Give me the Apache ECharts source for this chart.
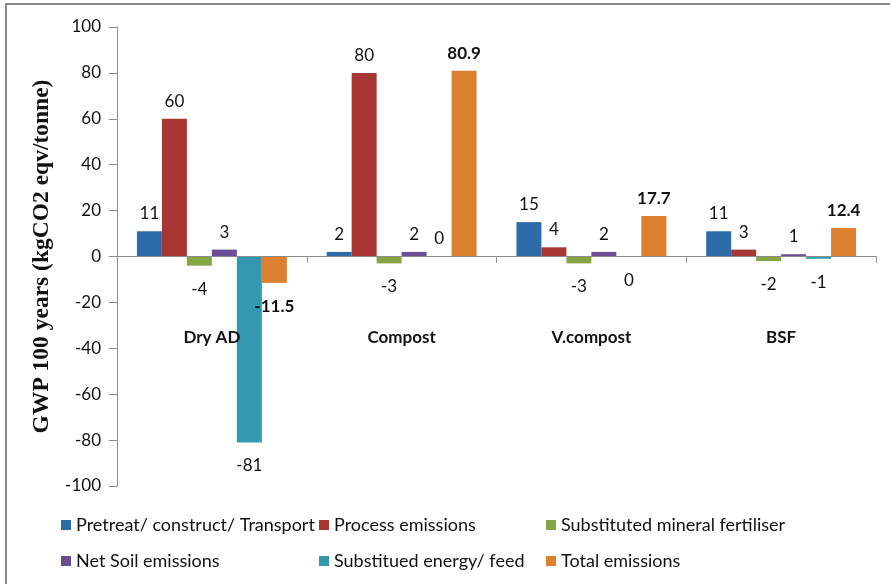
<!DOCTYPE html>
<html>
<head>
<meta charset="utf-8">
<script src="https://cdn.jsdelivr.net/npm/echarts@6/dist/echarts.min.js"></script>
<style>
  html, body { margin: 0; padding: 0; background: #fff; }
  #chart { width: 890px; height: 584px; }
</style>
</head>
<body>
<div id="chart"></div>
<script>
// categories
const categories = ["Dry AD", "Compost", "V.compost", "BSF"];
// series values, one per category
const pretreat = [11, 2, 15, 11];
const processEm = [60, 80, 4, 3];
const mineralFert = [-4, -3, -3, -2];
const netSoil = [3, 2, 2, 1];
const energyFeed = [-81, 0, -0.2, -1];
const totalEm = [-11.5, 80.9, 17.7, 12.4];

const seriesNames = [
  "Pretreat/ construct/ Transport",
  "Process emissions",
  "Substituted mineral fertiliser",
  "Net Soil emissions",
  "Substitued energy/ feed",
  "Total emissions"
];
const seriesData = [pretreat, processEm, mineralFert, netSoil, energyFeed, totalEm];
const colors = ["#2E6CA9", "#A83734", "#86A643", "#6B4D93", "#3398B0", "#DC7F2E"];

let myChart = echarts.init(document.getElementById("chart"));

let series = seriesData.map((vals, i) => {
  const isTotal = i === 5;
  return {
    name: seriesNames[i],
    type: "bar",
    barGap: "0%",
    barCategoryGap: "21%",
    itemStyle: { color: colors[i] },
    data: vals.map(v => ({
      value: v,
      label: {
        position: v < 0 ? "bottom" : "top",
        distance: v < 0 ? 15 : 9
      }
    })),
    label: {
      show: true,
      color: "#111",
      fontFamily: "Lato",
      fontSize: 17,
      fontWeight: isTotal ? "bold" : "normal",
      formatter: p => isTotal ? p.value.toFixed(1) : String(Math.round(p.value))
    }
  };
});

const legendBase = {
  orient: "vertical",
  top: 516,
  padding: 0,
  itemGap: 18,
  itemWidth: 10,
  itemHeight: 10,
  icon: "rect",
  selectedMode: false,
  textStyle: { color: "#111", fontFamily: "Lato", fontSize: 18 }
};

let option = {
  animation: false,
  graphic: [
    {
      type: "rect",
      shape: { x: 6, y: 4, width: 950, height: 650 },
      style: { fill: "none", stroke: "#8a8a8a", lineWidth: 2 },
      silent: true
    }
  ],
  legend: [
    Object.assign({}, legendBase, { left: 61, data: [seriesNames[0], seriesNames[3]] }),
    Object.assign({}, legendBase, { left: 319, data: [seriesNames[1], seriesNames[4]] }),
    Object.assign({}, legendBase, { left: 546, data: [seriesNames[2], seriesNames[5]] })
  ],
  grid: {
    left: 117,
    right: 14,
    top: 27,
    bottom: 98,
    containLabel: false
  },
  xAxis: {
    type: "category",
    data: categories,
    z: 3,
    axisLine: { onZero: true, lineStyle: { color: "#8c8c8c", width: 1 } },
    axisTick: { show: true, length: 6, lineStyle: { color: "#8c8c8c" } },
    axisLabel: {
      margin: -157,
      color: "#111",
      fontFamily: "Lato",
      fontSize: 17,
      fontWeight: "bold"
    }
  },
  yAxis: {
    type: "value",
    min: -100,
    max: 100,
    interval: 20,
    name: "GWP 100 years (kgCO2 eqv/tonne)",
    nameLocation: "middle",
    nameGap: 62,
    nameTextStyle: {
      fontFamily: "Liberation Serif",
      fontSize: 23.5,
      fontWeight: "bold",
      color: "#111"
    },
    splitLine: { show: false },
    axisLine: { show: true, lineStyle: { color: "#8c8c8c" } },
    axisTick: { show: true, length: 8, lineStyle: { color: "#8c8c8c" } },
    axisLabel: {
      margin: 16,
      color: "#111",
      fontFamily: "Lato",
      fontSize: 17
    }
  },
  series: series
};

myChart.setOption(option);
window.addEventListener("resize", function () {
  myChart.resize();
});
</script>
</body>
</html>
